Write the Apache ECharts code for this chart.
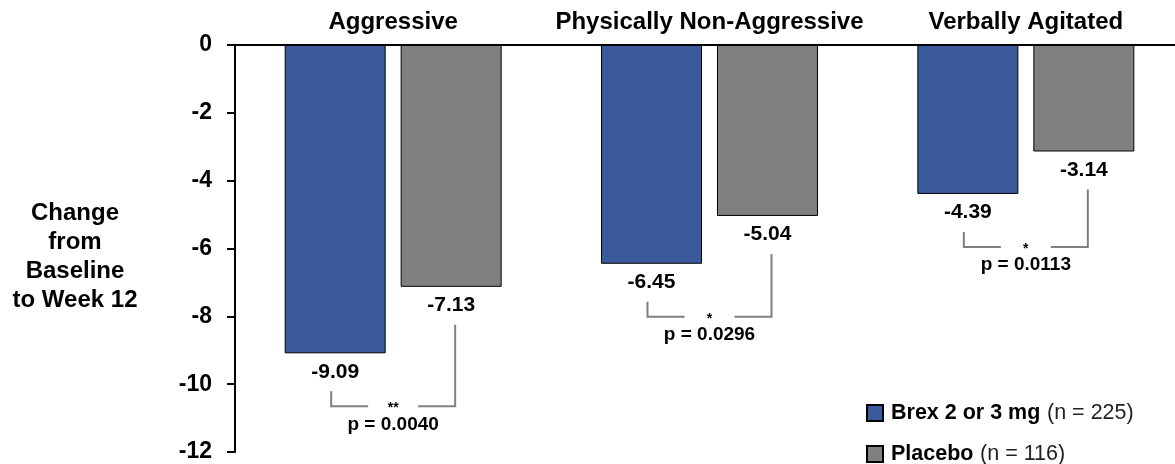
<!DOCTYPE html>
<html>
<head>
<meta charset="utf-8">
<script src="https://cdn.jsdelivr.net/npm/echarts@6/dist/echarts.min.js"></script>
<style>
  html, body { margin: 0; padding: 0; background: #fff; }
  #chart { width: 1175px; height: 464px; }
</style>
</head>
<body>
<div id="chart"></div>
<script>
// Outcome domains shown across the top
const categories = ['Aggressive', 'Physically Non-Aggressive', 'Verbally Agitated'];
// Mean change from baseline to week 12
const brexValues = [-9.09, -6.45, -4.39];
const placeboValues = [-7.13, -5.04, -3.14];
// Significance marks and p-values per domain
const stars = ['**', '*', '*'];
const pValues = ['0.0040', '0.0296', '0.0113'];
// Series names and group sizes for the legend
const seriesNames = ['Brex 2 or 3 mg', 'Placebo'];
const groupSizes = [225, 116];
// Y axis range
const yMin = -12, yMax = 0, yStep = 2;

const FONT = 'Liberation Sans, Arial, sans-serif';
const BLUE = '#3A5A9B';
const GRAY = '#808080';
const BAR_W = 101;
const BAR_GAP = 15;

const chart = echarts.init(document.getElementById('chart'));

const bracketData = categories.map((c, i) => [i, brexValues[i], placeboValues[i], stars[i], pValues[i]]);

// Comparison bracket under each pair of bars, with the significance mark and p-value
function renderBracket(params, api) {
  const idx = api.value(0);
  const pBlue = api.coord([idx, api.value(1)]);
  const pGray = api.coord([idx, api.value(2)]);
  const cx = pBlue[0];
  const half = (BAR_W + BAR_GAP) / 2;
  const xL = cx - half - 4;
  const xR = cx + half + 4;
  const yLTop = pBlue[1] + 38;
  const yH = pBlue[1] + 53;
  const yRTop = pGray[1] + 38;
  const gap = 25;
  const d = bracketData[params.dataIndex];
  const lineStyle = { stroke: '#7F7F7F', lineWidth: 2, fill: null };
  return {
    type: 'group',
    children: [
      { type: 'polyline', shape: { points: [[xL, yLTop], [xL, yH], [cx - gap, yH]] }, style: lineStyle },
      { type: 'polyline', shape: { points: [[cx + gap, yH], [xR, yH], [xR, yRTop]] }, style: lineStyle },
      { type: 'text', style: { text: d[3], x: cx, y: yH + 2, align: 'center', verticalAlign: 'middle',
          font: 'bold 14px ' + FONT, fill: '#000' } },
      { type: 'text', style: { text: 'p = ' + d[4], x: cx, y: yH + 18, align: 'center', verticalAlign: 'middle',
          font: 'bold 19px ' + FONT, fill: '#000' } }
    ]
  };
}

const valueLabel = {
  show: true,
  position: 'bottom',
  distance: 8,
  color: '#000',
  fontFamily: FONT,
  fontWeight: 'bold',
  fontSize: 21,
  formatter: p => p.value.toFixed(2)
};

function legendEntry(i, top) {
  return {
    orient: 'vertical',
    left: 866, top: top,
    padding: 0,
    itemWidth: 16, itemHeight: 16,
    icon: 'rect',
    data: [seriesNames[i]],
    formatter: name => '{b|' + name + '}  {n|(n = ' + groupSizes[i] + ')}',
    textStyle: {
      padding: [0, 0, 0, 3],
      rich: {
        b: { fontFamily: FONT, fontWeight: 'bold', fontSize: 21.5, color: '#000' },
        n: { fontFamily: FONT, fontSize: 21.5, color: '#222' }
      }
    }
  };
}

chart.setOption({
  animation: false,
  backgroundColor: '#fff',
  grid: { left: 235, top: 45, width: 949, height: 407, containLabel: false, outerBoundsMode: 'none' },
  xAxis: {
    type: 'category',
    position: 'top',
    data: categories,
    axisLine: { show: true, lineStyle: { color: '#000', width: 2 } },
    axisTick: { show: false },
    axisLabel: { interval: 0, hideOverlap: false, color: '#000', fontFamily: FONT, fontWeight: 'bold', fontSize: 24, margin: 11 }
  },
  yAxis: {
    type: 'value',
    min: yMin, max: yMax, interval: yStep,
    axisLine: { show: true, lineStyle: { color: '#000', width: 2 } },
    axisTick: { show: true, length: 8, lineStyle: { color: '#000', width: 2 } },
    splitLine: { show: false },
    axisLabel: { color: '#000', fontFamily: FONT, fontWeight: 'bold', fontSize: 23, margin: 23 }
  },
  legend: [legendEntry(0, 402), legendEntry(1, 443)],
  graphic: [{
    type: 'text',
    x: 75, y: 199,
    style: {
      text: 'Change\nfrom\nBaseline\nto Week 12',
      align: 'center',
      verticalAlign: 'top',
      font: 'bold 24px ' + FONT,
      lineHeight: 29,
      fill: '#000'
    }
  }],
  series: [
    {
      name: seriesNames[0], type: 'bar', data: brexValues,
      barWidth: BAR_W, barGap: (BAR_GAP / BAR_W * 100) + '%',
      itemStyle: { color: BLUE, borderColor: '#000', borderWidth: 1 },
      label: valueLabel
    },
    {
      name: seriesNames[1], type: 'bar', data: placeboValues,
      barWidth: BAR_W,
      itemStyle: { color: GRAY, borderColor: '#000', borderWidth: 1 },
      label: valueLabel
    },
    {
      type: 'custom', renderItem: renderBracket, data: bracketData,
      encode: { x: 0, y: 1 }, z: 5, silent: true, clip: false
    }
  ]
});
</script>
</body>
</html>
